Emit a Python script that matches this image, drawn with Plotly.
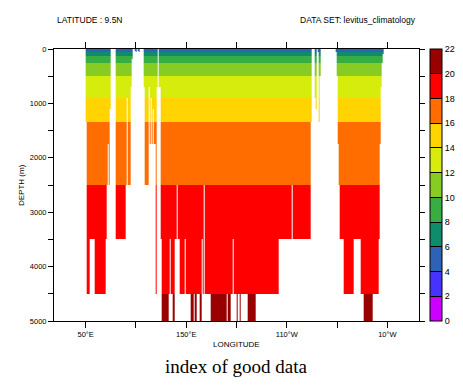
import numpy as np
import plotly.graph_objects as go

# ---------------- data ----------------
# west edge (deg E) of the first 1-degree column
LON_START = 50
# deepest good level index per longitude column, as runs (index, number of columns); 0 = no data
RUN_BOTTOM_K = [15, 19, 18, 19, 18, 17, 16, 17, 14, 0,
                18, 17, 13, 17, 12, 8, 0, 4, 5, 0, 4, 5, 0,
                12, 17, 12, 16, 13, 16, 14, 16, 19, 12, 0, 12, 18,
                20, 19, 18, 19, 20, 18, 17, 18, 19, 18, 19, 20, 19, 20, 19, 20,
                18, 19, 17, 19, 20, 19, 20, 19, 18, 19, 20, 19, 20, 19, 20, 19,
                18, 17, 18, 15, 0, 13, 14, 0, 5, 15, 11, 0,
                5, 11, 16, 17, 18, 19, 18, 19, 20, 19, 18, 16, 12, 9, 6]
RUN_LENGTH = [1, 3, 5, 11, 1, 1, 1, 1, 1, 5,
              10, 1, 1, 3, 1, 1, 2, 1, 1, 1, 1, 1, 4,
              1, 4, 1, 1, 1, 1, 1, 2, 1, 1, 1, 2, 1,
              7, 1, 1, 2, 2, 1, 1, 2, 5, 1, 5, 3, 1, 2, 3, 2,
              1, 1, 1, 6, 16, 1, 3, 2, 1, 3, 1, 2, 1, 7, 8, 23,
              13, 1, 18, 1, 3, 1, 1, 1, 1, 1, 1, 15,
              1, 1, 1, 1, 4, 10, 6, 3, 9, 6, 1, 1, 1, 1, 1]
# standard depth levels (m) and their index
LEVEL_DEPTH = [30, 50, 75, 100, 150, 200, 300, 400, 600, 800, 1000, 1200, 1500, 2000, 3000, 4000, 5000]
LEVEL_INDEX = list(range(4, 21))

# colour levels
LEVELS = list(range(0, 23, 2))
COLORS = ["#CC00FF", "#4733FF", "#2D62B4", "#0E8C6B", "#38AE42", "#86CC22",
          "#D5EC0C", "#FFD400", "#FF6D00", "#FF0000", "#990000"]

X_TICKS = [50, 100, 150, 200, 250, 300, 350]
X_TICKTEXT = ["50°E", "", "150°E", "", "110°W", "", "10°W"]
Y_TICKS = list(range(0, 5001, 500))
Y_TICKTEXT = [str(v) if v % 1000 == 0 else "" for v in Y_TICKS]

# ---------------- build grid ----------------
bottom = np.repeat(RUN_BOTTOM_K, RUN_LENGTH)
ncol = len(bottom)
x_edges = LON_START + np.arange(ncol + 1)
depth = np.array(LEVEL_DEPTH, dtype=float)
mid = (depth[:-1] + depth[1:]) / 2
y_edges = np.concatenate([[0.0], mid, [depth[-1]]])
kidx = np.array(LEVEL_INDEX, dtype=float)[:, None]
z = np.where(kidx <= bottom[None, :], kidx, np.nan)

zmin, zmax = LEVELS[0], LEVELS[-1]
cs = []
n = len(COLORS)
for i, c in enumerate(COLORS):
    cs.append([i / n, c])
    cs.append([(i + 1) / n, c])

FONT = "Liberation Sans"

fig = go.Figure()
fig.add_trace(go.Heatmap(
    x=x_edges, y=y_edges, z=z, zmin=zmin, zmax=zmax, colorscale=cs,
    zsmooth=False, hoverongaps=False,
    colorbar=dict(
        thickness=12, thicknessmode="pixels", len=1, lenmode="fraction",
        x=1.029, xanchor="left", y=0.5, yanchor="middle", xpad=0, ypad=0,
        outlinewidth=1, outlinecolor="black",
        tickmode="array", tickvals=LEVELS, ticktext=[str(v) for v in LEVELS],
        ticks="inside", ticklen=12, tickwidth=1, tickcolor="black",
        tickfont=dict(family=FONT, size=9, color="black"),
    ),
))

W, H = 463, 386
L, R, T, B = 54, 44, 49, 65
ph = H - T - B
pw = W - L - R

def py(ypix):
    return (H - B - ypix) / ph

def px(xpix):
    return (xpix - L) / pw

fig.update_layout(
    width=W, height=H,
    margin=dict(l=L, r=R, t=T, b=B, pad=0, autoexpand=False),
    paper_bgcolor="white", plot_bgcolor="white",
    showlegend=False,
    xaxis=dict(range=[18.5, 381.5], tickmode="array", tickvals=X_TICKS, ticktext=X_TICKTEXT,
               ticks="outside", ticklen=6, tickwidth=1, tickcolor="black",
               showline=True, linecolor="black", linewidth=1, mirror="allticks",
               showgrid=False, zeroline=False, automargin=False,
               tickfont=dict(family=FONT, size=7.5, color="black")),
    yaxis=dict(range=[5000, 0], tickmode="array", tickvals=Y_TICKS, ticktext=Y_TICKTEXT,
               ticks="outside", ticklen=5, tickwidth=1, tickcolor="black",
               showline=True, linecolor="black", linewidth=1, mirror="allticks",
               showgrid=False, zeroline=False, automargin=False,
               tickfont=dict(family=FONT, size=7.5, color="black")),
    annotations=[
        dict(text="LATITUDE : 9.5N", x=px(55), y=py(19.5), xref="paper", yref="paper",
             xanchor="left", yanchor="middle", showarrow=False,
             font=dict(family=FONT, size=8.5, color="black")),
        dict(text="DATA SET: levitus_climatology", x=px(418), y=py(19.5), xref="paper", yref="paper",
             xanchor="right", yanchor="middle", showarrow=False,
             font=dict(family=FONT, size=8.5, color="black")),
        dict(text="LONGITUDE", x=0.5, y=py(344), xref="paper", yref="paper",
             xanchor="center", yanchor="middle", showarrow=False,
             font=dict(family=FONT, size=8, color="black")),
        dict(text="DEPTH (m)", x=px(21), y=py(185), xref="paper", yref="paper",
             xanchor="center", yanchor="middle", showarrow=False, textangle=-90,
             font=dict(family=FONT, size=8, color="black")),
        dict(text="index of good data", x=0.5, y=py(366), xref="paper", yref="paper",
             xanchor="center", yanchor="middle", showarrow=False,
             font=dict(family="Liberation Serif", size=19, color="black")),
    ],
)

fig.write_html("out.html", config={"displayModeBar": False},
               post_script="document.body.style.margin='0';document.body.style.overflow='hidden';")
